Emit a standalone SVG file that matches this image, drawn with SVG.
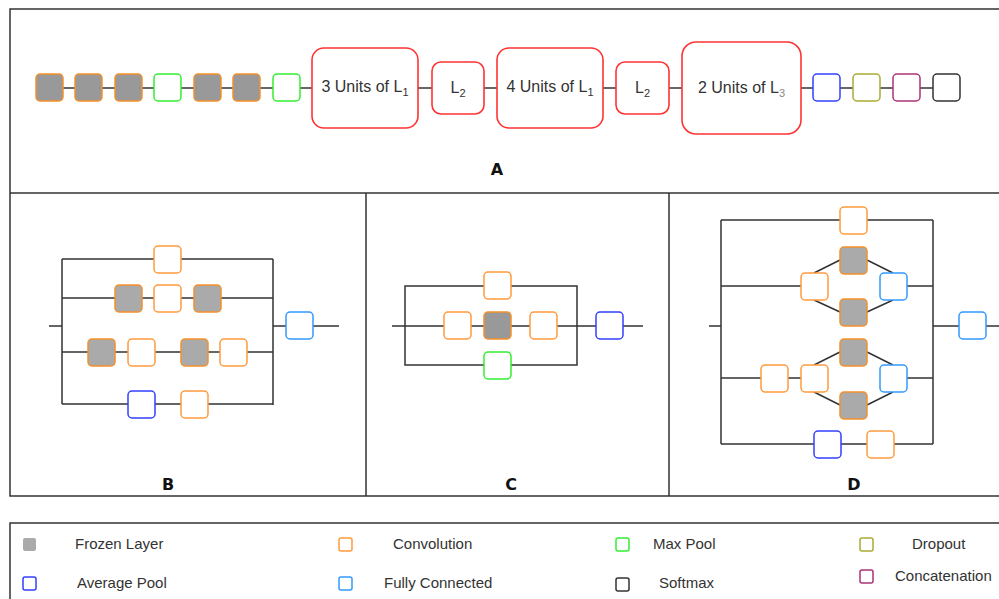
<svg xmlns="http://www.w3.org/2000/svg" width="999" height="599" viewBox="0 0 999 599">
<style>
text{font-family:"Liberation Sans",Arial,sans-serif;fill:#333}
.lbl{font-size:16px}
.sub{font-size:11px}
.leg{font-size:15px}
.pl{font-family:"DejaVu Sans","Liberation Sans",sans-serif;font-size:16px;font-weight:bold;fill:#111}
.frame{fill:none;stroke:#333;stroke-width:1.5}
.c{fill:none;stroke:#333;stroke-width:1.5}
.n{stroke-width:1.5}
.fz{fill:#999;stroke:#f5902a}
.fz2{fill:#aaa;stroke:#f5902a}
.cv{fill:#fff;stroke:#ff9a3c}
.mp{fill:#fff;stroke:#33ee33}
.ap{fill:#fff;stroke:#3340ff}
.fc{fill:#fff;stroke:#3399ff}
.dr{fill:#fff;stroke:#aaaa33}
.cc{fill:#fff;stroke:#aa3377}
.sm{fill:#fff;stroke:#333}
.big{fill:#fff;stroke:#ff3333;stroke-width:1.6}
</style>
<rect width="999" height="599" fill="#fff"/>
<g id="frames">
<path class="frame" d="M1001,9 H10 V496 H1001 M10,193 H1001 M366,193 V496 M669,193 V496"/>
<path class="frame" d="M1001,523 H10 V601"/>
</g>
<g id="connectors">
<path class="c" d="M36,88 H960"/>
<path class="c" d="M62,259 V404 M49,326 H62 M273,259 V405 M273,326 H339 M62,259 H273 M62,298 H273 M62,352 H273 M62,404 H273"/>
<path class="c" d="M405,286 H577 V365 H405 Z M392,326 H643"/>
<path class="c" d="M721,220 V444 M709,326 H721 M933,220 V444 M933,326 H999 M721,220 H933 M721,286 H801 M907,286 H933 M814,273 L840,260 M867,260 L893,273 M814,300 L840,312 M867,312 L893,300 M721,378 H801 M907,378 H933 M814,365 L840,352 M867,352 L893,365 M814,392 L840,405 M867,405 L893,392 M721,444 H933"/>
</g>
<g id="A">
<rect id="a1" class="n fz" x="36" y="74" width="27" height="27" rx="4"/>
<rect id="a2" class="n fz" x="75" y="74" width="27" height="27" rx="4"/>
<rect id="a3" class="n fz" x="115" y="74" width="27" height="27" rx="4"/>
<rect id="a4" class="n mp" x="154" y="74" width="27" height="27" rx="4"/>
<rect id="a5" class="n fz" x="194" y="74" width="27" height="27" rx="4"/>
<rect id="a6" class="n fz" x="233" y="74" width="27" height="27" rx="4"/>
<rect id="a7" class="n mp" x="273" y="74" width="27" height="27" rx="4"/>
<g id="a8"><rect class="big" x="312" y="48" width="106" height="80" rx="12"/><text class="lbl" x="365" y="92" text-anchor="middle">3 Units of L<tspan class="sub" dy="4">1</tspan></text></g>
<g id="a9"><rect class="big" x="432" y="62" width="52" height="52" rx="9"/><text class="lbl" x="458" y="93" text-anchor="middle">L<tspan class="sub" dy="4">2</tspan></text></g>
<g id="a10"><rect class="big" x="497" y="48" width="106" height="80" rx="12"/><text class="lbl" x="550" y="92" text-anchor="middle">4 Units of L<tspan class="sub" dy="4">1</tspan></text></g>
<g id="a11"><rect class="big" x="616" y="62" width="53" height="52" rx="9"/><text class="lbl" x="642.5" y="93" text-anchor="middle">L<tspan class="sub" dy="4">2</tspan></text></g>
<g id="a12"><rect class="big" x="682" y="42" width="119" height="92" rx="14"/><text class="lbl" x="741.5" y="93" text-anchor="middle">2 Units of L<tspan class="sub" dy="4" fill="#888">3</tspan></text></g>
<rect id="a13" class="n ap" x="813" y="74" width="27" height="27" rx="4"/>
<rect id="a14" class="n dr" x="853" y="74" width="27" height="27" rx="4"/>
<rect id="a15" class="n cc" x="893" y="74" width="27" height="27" rx="4"/>
<rect id="a16" class="n sm" x="933" y="74" width="27" height="27" rx="4"/>
<text class="pl" x="497" y="175" text-anchor="middle">A</text>
</g>
<g id="B">
<rect id="b1" class="n cv" x="154" y="246" width="27" height="27" rx="4"/>
<rect id="b2" class="n fz2" x="115" y="285" width="27" height="27" rx="4"/>
<rect id="b3" class="n cv" x="154" y="285" width="27" height="27" rx="4"/>
<rect id="b4" class="n fz2" x="194" y="285" width="27" height="27" rx="4"/>
<rect id="b5" class="n fz2" x="88" y="339" width="27" height="27" rx="4"/>
<rect id="b6" class="n cv" x="128" y="339" width="27" height="27" rx="4"/>
<rect id="b7" class="n fz2" x="181" y="339" width="27" height="27" rx="4"/>
<rect id="b8" class="n cv" x="220" y="339" width="27" height="27" rx="4"/>
<rect id="b9" class="n ap" x="128" y="391" width="27" height="27" rx="4"/>
<rect id="b10" class="n cv" x="181" y="391" width="27" height="27" rx="4"/>
<rect id="b11" class="n fc" x="286" y="312" width="27" height="27" rx="4"/>
<text class="pl" x="168" y="490" text-anchor="middle">B</text>
</g>
<g id="C">
<rect id="c1" class="n cv" x="484" y="272" width="27" height="27" rx="4"/>
<rect id="c2" class="n cv" x="444" y="312" width="27" height="27" rx="4"/>
<rect id="c3" class="n fz" x="484" y="312" width="27" height="27" rx="4"/>
<rect id="c4" class="n cv" x="530" y="312" width="27" height="27" rx="4"/>
<rect id="c5" class="n mp" x="484" y="352" width="27" height="27" rx="4"/>
<rect id="c6" class="n ap" x="596" y="312" width="27" height="27" rx="4"/>
<text class="pl" x="511" y="490" text-anchor="middle">C</text>
</g>
<g id="D">
<rect id="d1" class="n cv" x="840" y="207" width="27" height="27" rx="4"/>
<rect id="d2" class="n cv" x="801" y="273" width="27" height="27" rx="4"/>
<rect id="d3" class="n fz2" x="840" y="247" width="27" height="27" rx="4"/>
<rect id="d4" class="n fz2" x="840" y="299" width="27" height="27" rx="4"/>
<rect id="d5" class="n fc" x="880" y="273" width="27" height="27" rx="4"/>
<rect id="d6" class="n cv" x="761" y="365" width="27" height="27" rx="4"/>
<rect id="d7" class="n cv" x="801" y="365" width="27" height="27" rx="4"/>
<rect id="d8" class="n fz2" x="840" y="339" width="27" height="27" rx="4"/>
<rect id="d9" class="n fz2" x="840" y="392" width="27" height="27" rx="4"/>
<rect id="d10" class="n fc" x="880" y="365" width="27" height="27" rx="4"/>
<rect id="d11" class="n ap" x="814" y="431" width="27" height="27" rx="4"/>
<rect id="d12" class="n cv" x="867" y="431" width="27" height="27" rx="4"/>
<rect id="d13" class="n fc" x="959" y="312" width="27" height="27" rx="4"/>
<text class="pl" x="854" y="490" text-anchor="middle">D</text>
</g>
<g id="legend">
<rect x="23" y="538" width="13" height="13" rx="2" fill="#aaa"/>
<text class="leg" x="75" y="549">Frozen Layer</text>
<rect x="23" y="577" width="13" height="13" rx="2" fill="#fff" stroke="#3340ff" stroke-width="1.5"/>
<text class="leg" x="77" y="588">Average Pool</text>
<rect x="339" y="538" width="13" height="13" rx="2" fill="#fff" stroke="#ff9a3c" stroke-width="1.5"/>
<text class="leg" x="393" y="549">Convolution</text>
<rect x="339" y="577" width="13" height="13" rx="2" fill="#fff" stroke="#3399ff" stroke-width="1.5"/>
<text class="leg" x="384" y="588">Fully Connected</text>
<rect x="616" y="538" width="13" height="13" rx="2" fill="#fff" stroke="#33ee33" stroke-width="1.5"/>
<text class="leg" x="653" y="549">Max Pool</text>
<rect x="616" y="578" width="13" height="13" rx="2" fill="#fff" stroke="#333" stroke-width="1.5"/>
<text class="leg" x="659" y="588">Softmax</text>
<rect x="860" y="538" width="13" height="13" rx="2" fill="#fff" stroke="#aaaa33" stroke-width="1.5"/>
<text class="leg" x="912" y="549">Dropout</text>
<rect x="860" y="570" width="13" height="13" rx="2" fill="#fff" stroke="#aa3377" stroke-width="1.5"/>
<text class="leg" x="895" y="581">Concatenation</text>
</g>
</svg>
